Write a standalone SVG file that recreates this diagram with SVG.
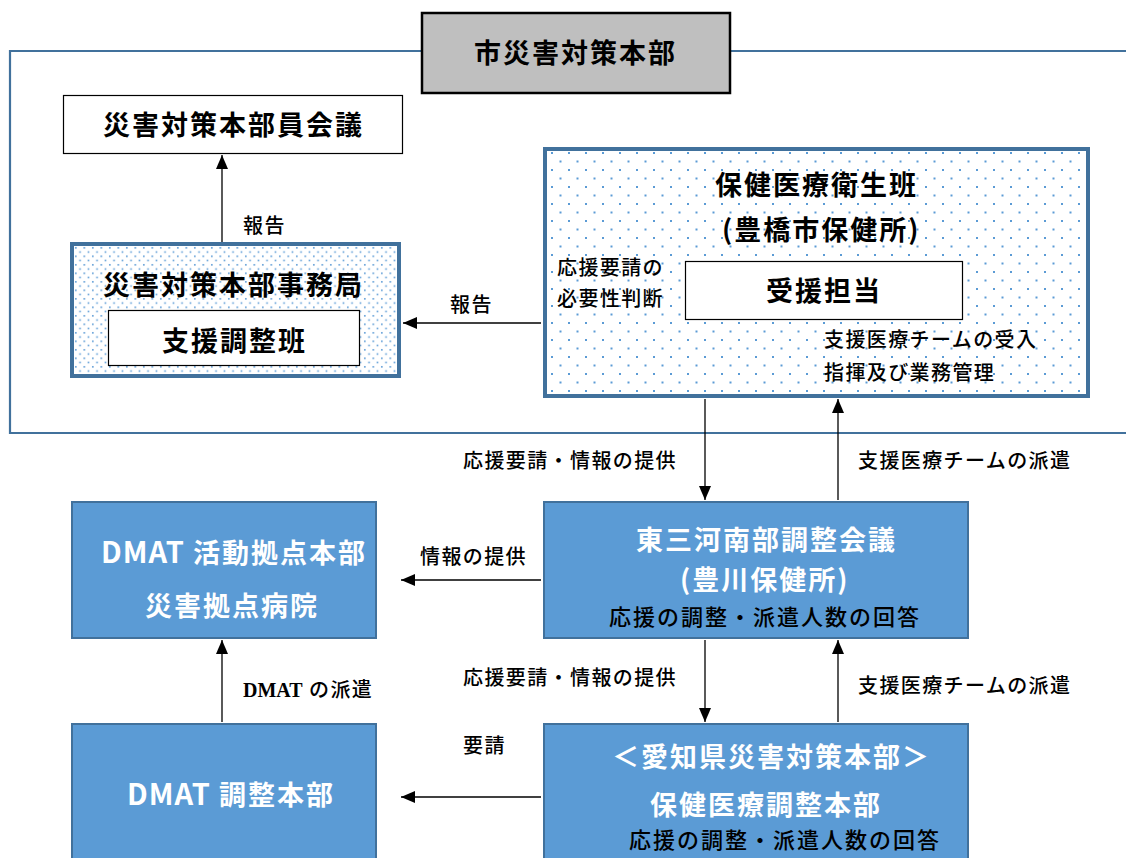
<svg xmlns="http://www.w3.org/2000/svg" width="1126" height="858" viewBox="0 0 1126 858">
<style>
.frame{fill:none;stroke:#41719C;stroke-width:2.2}
.tb{font-family:"Noto Sans CJK JP","Noto Sans",sans-serif;font-weight:bold;font-size:27px;letter-spacing:2px}
.w{fill:#fff}
.k{fill:#000}
.lb{font-family:"Liberation Serif","Noto Sans CJK JP",serif;font-size:20px;font-weight:500;letter-spacing:1.4px;fill:#000}
.lat{font-family:"Liberation Serif",serif;font-weight:bold;letter-spacing:0}
.dm{font-size:29px;letter-spacing:1px}
.sub{font-family:"Noto Sans CJK JP",sans-serif;font-size:22px;font-weight:500;letter-spacing:2px;fill:#000}
.whitebox{fill:#fff;stroke:#000;stroke-width:1.2}
.thick{stroke:#41719C;stroke-width:4}
.blue{fill:#5B9BD5;stroke:#41719C;stroke-width:2}
.conn{stroke:#000;stroke-width:1.3;fill:none;marker-end:url(#ah)}
</style>
<defs>
<marker id="ah" markerUnits="userSpaceOnUse" markerWidth="14" markerHeight="12" refX="14" refY="6" orient="auto">
<path d="M0,0 L14,6 L0,12 z" fill="#000"/>
</marker>
<pattern id="dotsBig" patternUnits="userSpaceOnUse" x="547" y="150" width="17" height="17">
<rect x="4" y="2" width="2" height="2" fill="#5B9BD5"/>
<rect x="12.5" y="10.5" width="2" height="2" fill="#5B9BD5"/>
</pattern>
<pattern id="dotsSmall" patternUnits="userSpaceOnUse" x="74" y="246" width="8.5" height="8.5">
<rect x="1" y="1" width="1.6" height="1.6" fill="#5B9BD5"/>
<rect x="5.25" y="5.25" width="1.6" height="1.6" fill="#5B9BD5"/>
</pattern>
</defs>
<rect width="1126" height="858" fill="#fff"/>
<path class="frame" d="M1126,51 H10 V433 H1126"/>

<g id="city-hq">
<rect x="422" y="13" width="308" height="80" fill="#BFBFBF" stroke="#000" stroke-width="2.5"/>
<text class="tb k" x="474" y="63">市災害対策本部</text>
</g>

<g id="members-meeting">
<rect class="whitebox" x="63.5" y="95.5" width="339" height="58"/>
<text class="tb k" x="103" y="135">災害対策本部員会議</text>
</g>

<g id="secretariat">
<rect class="thick" x="72" y="244" width="327" height="132" fill="#fff"/>
<rect x="74" y="246" width="323" height="128" fill="url(#dotsSmall)"/>
<text class="tb k" x="103" y="295">災害対策本部事務局</text>
<g id="support-team">
<rect class="whitebox" x="108.5" y="310.5" width="251" height="55"/>
<text class="tb k" x="162" y="351">支援調整班</text>
</g>
</g>

<g id="health-team">
<rect class="thick" x="545" y="149" width="543" height="247" fill="#fff"/>
<rect x="547" y="151" width="539" height="243" fill="url(#dotsBig)"/>
<text class="tb k" x="715" y="195">保健医療衛生班</text>
<text class="tb k" x="722" y="240">(豊橋市保健所)</text>
<text class="lb" x="557" y="275">応援要請の</text>
<text class="lb" x="557" y="306">必要性判断</text>
<text class="lb" x="824" y="347">支援医療チームの受入</text>
<text class="lb" x="824" y="380">指揮及び業務管理</text>
<g id="reception">
<rect class="whitebox" x="685.5" y="261.5" width="277" height="58"/>
<text class="tb k" x="766" y="301">受援担当</text>
</g>
</g>

<g id="higashi-mikawa">
<rect class="blue" x="544" y="502" width="424" height="136"/>
<text class="tb w" x="636" y="550">東三河南部調整会議</text>
<text class="tb w" x="680" y="590">(豊川保健所)</text>
<text class="sub" x="609" y="625">応援の調整・派遣人数の回答</text>
</g>

<g id="dmat-base">
<rect class="blue" x="72" y="502" width="304" height="136"/>
<text class="tb w" x="101" y="563"><tspan class="dm">DMAT</tspan> 活動拠点本部</text>
<text class="tb w" x="145" y="616">災害拠点病院</text>
</g>

<g id="dmat-hq">
<rect class="blue" x="72" y="724" width="304" height="140"/>
<text class="tb w" x="127" y="805"><tspan class="dm">DMAT</tspan> 調整本部</text>
</g>

<g id="aichi-hq">
<rect class="blue" x="544" y="724" width="424" height="140"/>
<text class="tb w" x="612" y="767">＜愛知県災害対策本部＞</text>
<text class="tb w" x="650" y="815">保健医療調整本部</text>
<text class="sub" x="629" y="848">応援の調整・派遣人数の回答</text>
</g>

<g id="connectors">
<line class="conn" x1="222" y1="242" x2="222" y2="155"/>
<line class="conn" x1="541" y1="323" x2="403" y2="323"/>
<line class="conn" x1="705" y1="399" x2="705" y2="500"/>
<line class="conn" x1="838" y1="500" x2="838" y2="399"/>
<line class="conn" x1="541" y1="580" x2="401" y2="580"/>
<line class="conn" x1="705" y1="640" x2="705" y2="722"/>
<line class="conn" x1="838" y1="722" x2="838" y2="640"/>
<line class="conn" x1="222" y1="722" x2="222" y2="640"/>
<line class="conn" x1="541" y1="797" x2="401" y2="797"/>
<text class="lb" x="243" y="233">報告</text>
<text class="lb" x="450" y="312">報告</text>
<text class="lb" x="463" y="468">応援要請・情報の提供</text>
<text class="lb" x="858" y="468">支援医療チームの派遣</text>
<text class="lb" x="420" y="564">情報の提供</text>
<text class="lb" x="463" y="685">応援要請・情報の提供</text>
<text class="lb" x="858" y="693">支援医療チームの派遣</text>
<text class="lb" x="243" y="697"><tspan class="lat">DMAT</tspan> の派遣</text>
<text class="lb" x="463" y="753">要請</text>
</g>
</svg>
